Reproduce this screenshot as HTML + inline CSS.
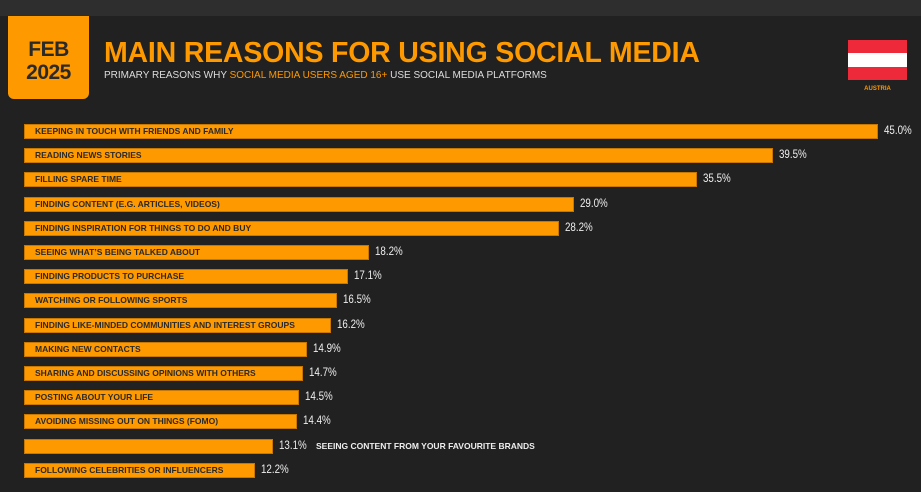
<!DOCTYPE html>
<html><head><meta charset="utf-8"><style>
body{margin:0;width:921px;height:492px;background:#212121;position:relative;overflow:hidden;font-family:"Liberation Sans",sans-serif}
.top{position:absolute;left:0;top:0;width:921px;height:16px;background:#2e2e2e}
.date{position:absolute;left:8px;top:16px;width:81px;height:83px;background:#ff9900;border-radius:0 0 6px 6px;color:#2a2a2a;font-weight:bold;font-size:21px;line-height:23px;text-align:center;box-sizing:border-box;padding-top:22px;letter-spacing:-0.5px}
.title{position:absolute;left:104px;top:37px;color:#ff9900;font-weight:bold;font-size:28.5px;letter-spacing:-0.2px;white-space:nowrap}
.sub{position:absolute;left:104px;top:70px;color:#ddd;font-size:10px;white-space:nowrap}
.sub span{color:#ff9900}
.flag{position:absolute;left:848px;top:40px;width:59px;height:40px;background:#ee2a3a}
.flag div{position:absolute;left:0;top:13px;width:59px;height:14px;background:#fff}
.aus{position:absolute;left:848px;top:86px;width:59px;text-align:center;color:#ff9900;font-size:6px;font-weight:bold}
.bar{position:absolute;left:24px;height:15px;background:#ff9900;box-shadow:inset 0 0 0 1px #c87800}
.lbl{position:absolute;left:11px;top:1px;font-size:8.5px;font-weight:bold;color:#2a2a2a;white-space:nowrap;line-height:12px}
.val{position:absolute;font-family:"Liberation Sans Narrow","Liberation Sans",sans-serif;font-size:11.5px;color:#eee;line-height:15px;white-space:nowrap;transform:scaleX(0.85);transform-origin:left}
.ext{position:absolute;font-size:8.5px;font-weight:bold;color:#eee;white-space:nowrap;line-height:15px}
</style></head><body>
<div class="top"></div>
<div class="date">FEB<br>2025</div>
<div class="title">MAIN REASONS FOR USING SOCIAL MEDIA</div>
<div class="sub">PRIMARY REASONS WHY <span>SOCIAL MEDIA USERS AGED 16+</span> USE SOCIAL MEDIA PLATFORMS</div>
<div class="flag"><div></div></div>
<div class="aus">AUSTRIA</div>
<div id="c"></div>
<script>
var d=[["KEEPING IN TOUCH WITH FRIENDS AND FAMILY",45.0],["READING NEWS STORIES",39.5],["FILLING SPARE TIME",35.5],["FINDING CONTENT (E.G. ARTICLES, VIDEOS)",29.0],["FINDING INSPIRATION FOR THINGS TO DO AND BUY",28.2],["SEEING WHAT’S BEING TALKED ABOUT",18.2],["FINDING PRODUCTS TO PURCHASE",17.1],["WATCHING OR FOLLOWING SPORTS",16.5],["FINDING LIKE-MINDED COMMUNITIES AND INTEREST GROUPS",16.2],["MAKING NEW CONTACTS",14.9],["SHARING AND DISCUSSING OPINIONS WITH OTHERS",14.7],["POSTING ABOUT YOUR LIFE",14.5],["AVOIDING MISSING OUT ON THINGS (FOMO)",14.4],["",13.1],["FOLLOWING CELEBRITIES OR INFLUENCERS",12.2]];
var h="";
d.forEach(function(r,i){var y=124+i*24.2,w=r[1]*18.97;
h+='<div class="bar" style="top:'+y+'px;width:'+w+'px"><div class="lbl">'+r[0]+'</div></div>';
h+='<div class="val" style="left:'+(24+w+6)+'px;top:'+y+'px">'+r[1].toFixed(1)+'%</div>';
if(!r[0])h+='<div class="ext" style="left:316px;top:'+y+'px">SEEING CONTENT FROM YOUR FAVOURITE BRANDS</div>';});
document.getElementById("c").innerHTML=h;
</script>
</body></html>
